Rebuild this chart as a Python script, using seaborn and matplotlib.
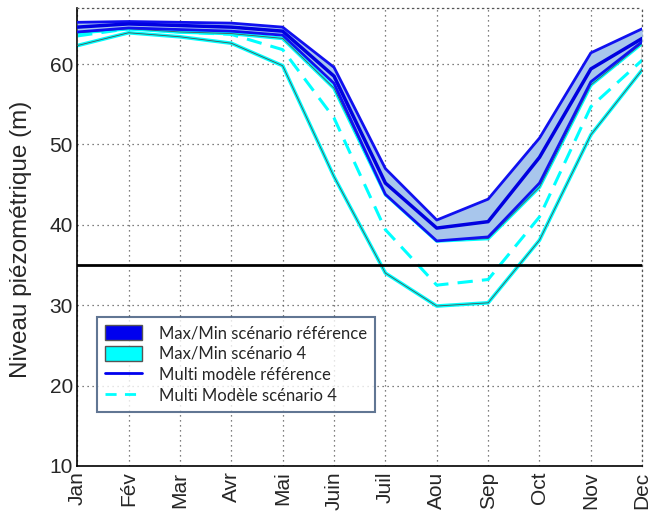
import numpy as np
import pandas as pd
import matplotlib
matplotlib.use("Agg")
import matplotlib.pyplot as plt
import seaborn as sns
from matplotlib.patches import Patch
from matplotlib.lines import Line2D

# Données (niveau piézométrique, m)
months = ['Jan', 'Fév', 'Mar', 'Avr', 'Mai', 'Juin', 'Juil', 'Aou', 'Sep', 'Oct', 'Nov', 'Dec']
ref_max = [65.2, 65.3, 65.2, 65.1, 64.6, 59.6, 47.0, 40.6, 43.2, 50.8, 61.4, 64.4]
ref_min = [64.0, 64.5, 64.3, 64.1, 63.6, 57.6, 43.8, 38.0, 38.5, 45.2, 57.8, 62.8]
ref_multi = [64.6, 65.0, 64.8, 64.6, 64.1, 58.5, 45.2, 39.6, 40.4, 48.4, 59.4, 63.2]
sc4_max = [63.9, 64.4, 64.0, 63.8, 63.2, 57.0, 43.8, 38.0, 38.3, 44.7, 57.4, 62.6]
sc4_min = [62.3, 63.9, 63.4, 62.6, 59.8, 46.0, 34.0, 29.9, 30.3, 38.1, 51.2, 59.3]
sc4_multi = [63.5, 64.4, 64.0, 63.7, 61.8, 53.3, 39.4, 32.5, 33.2, 41.0, 54.7, 60.5]
seuil = 35

df = pd.DataFrame({
    'x': np.arange(len(months)),
    'ref_max': ref_max, 'ref_min': ref_min, 'ref_multi': ref_multi,
    'sc4_max': sc4_max, 'sc4_min': sc4_min, 'sc4_multi': sc4_multi,
})

sns.set_style("white")
plt.rcParams['font.family'] = ['Liberation Sans', 'DejaVu Sans']

fig = plt.figure(figsize=(6.54, 5.23), dpi=100)
ax = fig.add_axes([0.118, 0.109, 0.864, 0.876])

# enveloppe scénario 4
sns.lineplot(data=df, x='x', y='sc4_max', ax=ax, color='cyan', linewidth=2.6, zorder=2)
sns.lineplot(data=df, x='x', y='sc4_min', ax=ax, color='cyan', linewidth=2.6, zorder=2)
ax.fill_between(df['x'], df['sc4_min'], df['sc4_max'], facecolor='none',
                edgecolor='#505050', linewidth=0.6, zorder=3)
ax.plot(df['x'], df['sc4_multi'], color='cyan', linewidth=2.2, dashes=(5, 3), zorder=2)

# enveloppe référence
ax.fill_between(df['x'], df['ref_min'], df['ref_max'], color='#a8c6ec', linewidth=0, zorder=4)
sns.lineplot(data=df, x='x', y='ref_max', ax=ax, color='#1010f0', linewidth=2, zorder=5)
sns.lineplot(data=df, x='x', y='ref_min', ax=ax, color='#1010f0', linewidth=2, zorder=5)
sns.lineplot(data=df, x='x', y='ref_multi', ax=ax, color='#0000e0', linewidth=2.5, zorder=6)

ax.axhline(seuil, color='black', linewidth=2, zorder=6)

ax.set_xlim(0, 11)
ax.set_ylim(10, 67)
ax.set_xticks(df['x'])
ax.set_xticklabels(months, rotation=90, fontsize=15)
ax.set_yticks([10, 20, 30, 40, 50, 60])
ax.tick_params(axis='y', labelsize=15, length=3, direction='in', pad=3)
ax.tick_params(axis='x', length=3, direction='in', pad=4)
ax.set_xlabel('')
ax.set_ylabel('Niveau piézométrique (m)', fontsize=17.5, va='center')
ax.yaxis.set_label_coords(-0.1, 0.495)
ax.grid(True, linestyle=(0, (1, 3)), color='#555555', linewidth=0.9)

for s in ['left', 'bottom']:
    ax.spines[s].set_color('black')
    ax.spines[s].set_linewidth(1.2)
for s in ['top', 'right']:
    ax.spines[s].set_color('#555555')
    ax.spines[s].set_linestyle((0, (1, 3)))
    ax.spines[s].set_linewidth(0.9)

handles = [
    Patch(facecolor='#0000ee', edgecolor='#555555'),
    Patch(facecolor='#00ffff', edgecolor='#555555'),
    Line2D([], [], color='#0000ee', linewidth=2),
    Line2D([], [], color='cyan', linewidth=2, dashes=(4, 3)),
]
labels = ['Max/Min scénario référence', 'Max/Min scénario 4',
          'Multi modèle référence', 'Multi Modèle scénario 4']
leg = ax.legend(handles, labels, loc='lower left', bbox_to_anchor=(0.035, 0.118),
                borderaxespad=0, prop={'family': 'Lato', 'size': 12}, fancybox=False,
                frameon=True, handlelength=2.2, handleheight=1.0, handletextpad=1.0,
                labelspacing=0.28, borderpad=0.5)
leg.get_frame().set_edgecolor('#3a5478')
leg.get_frame().set_linewidth(1.5)
leg.set_zorder(10)

plt.savefig('out.png', dpi=100)
